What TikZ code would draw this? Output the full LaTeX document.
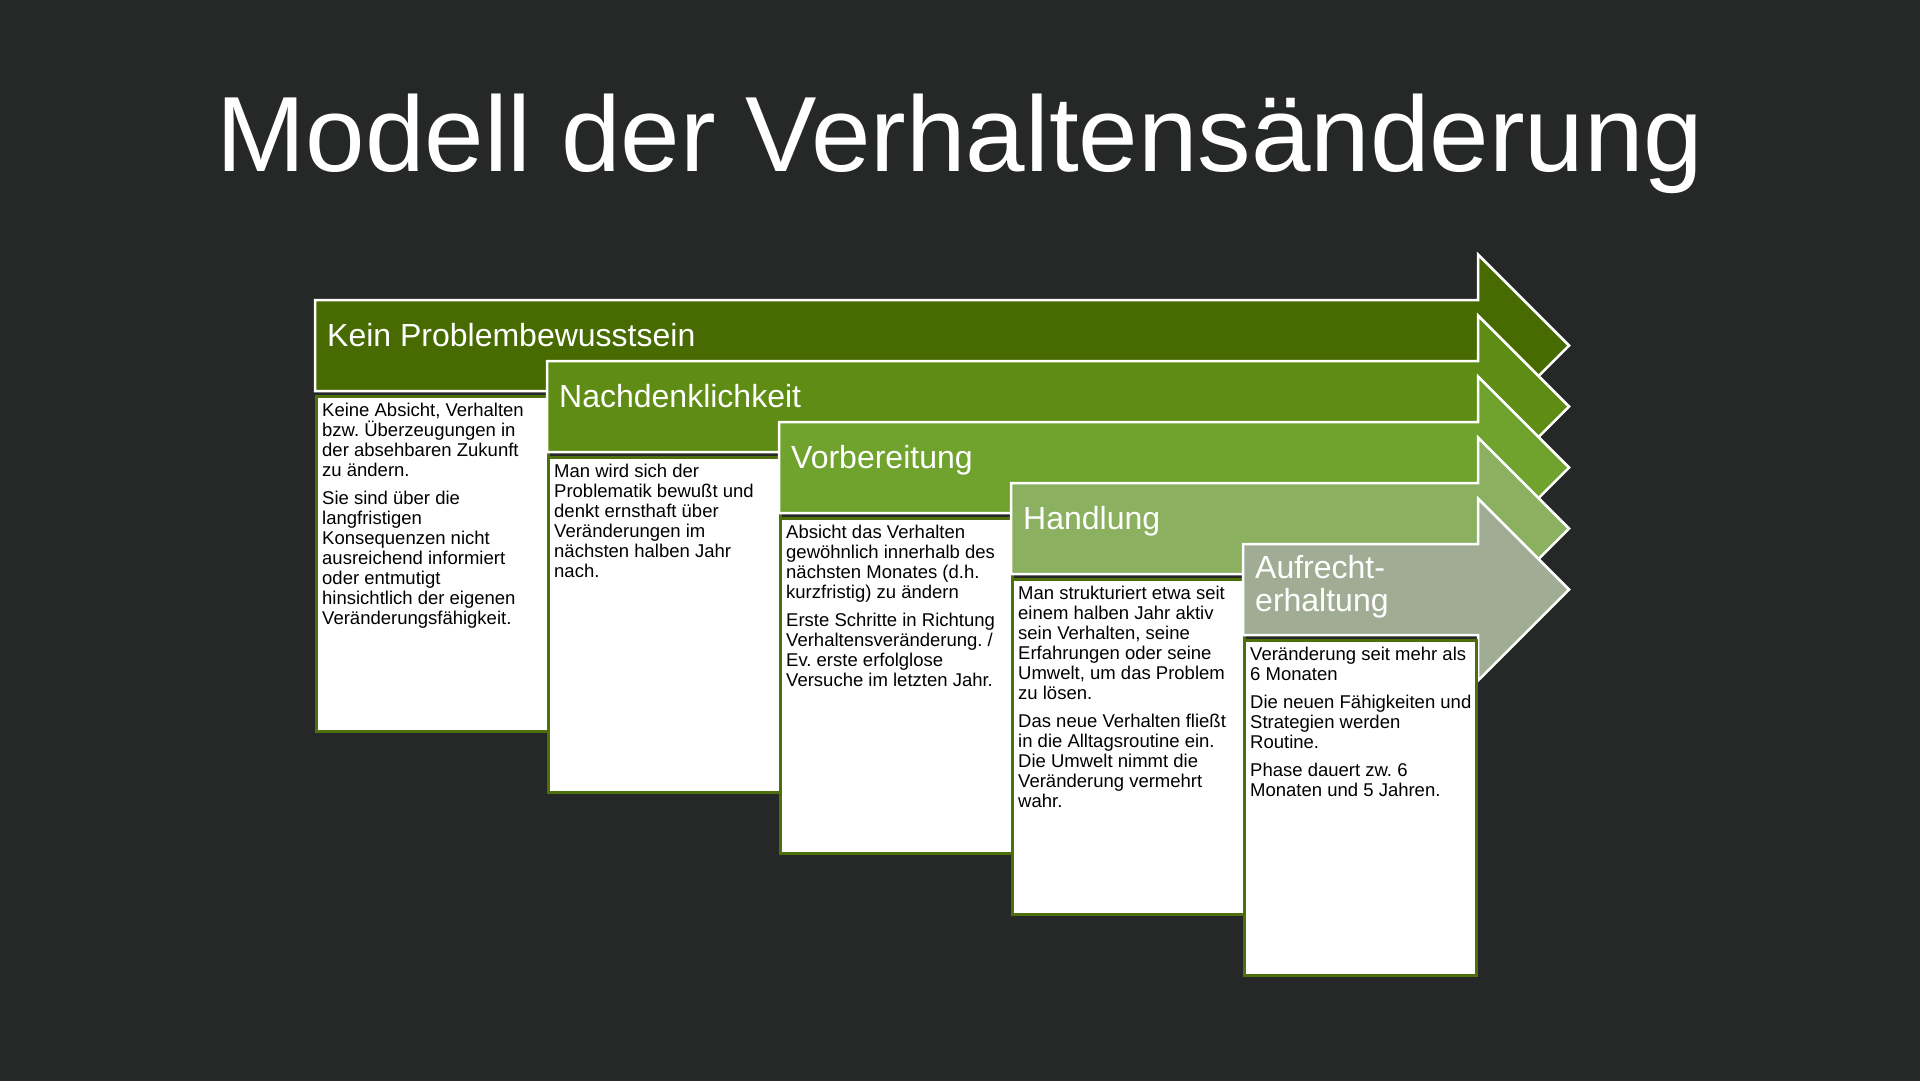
\documentclass[tikz,border=0pt]{standalone}
\usepackage{fontspec}
\setmainfont{Liberation Sans}
\usetikzlibrary{positioning}
\frenchspacing
\definecolor{pagebg}{RGB}{38,40,40}
\definecolor{stageA}{RGB}{71,107,0}
\definecolor{stageB}{RGB}{95,140,20}
\definecolor{stageC}{RGB}{112,162,46}
\definecolor{stageD}{RGB}{138,176,96}
\definecolor{stageE}{RGB}{160,173,148}
\definecolor{bodyrim}{RGB}{78,112,12}
% arrow band: left edge, top edge, fill colour
\newcommand{\stagearrow}[3]{%
  \draw [stagehead, fill=#3] (#1,#2) -- (1478,#2) -- (1478,#2-45.5) -- (1569,#2+45.5)
    -- (1478,#2+136.5) -- (1478,#2+91) -- (#1,#2+91) -- cycle;}

\begin{document}
\begin{tikzpicture}[x=1pt, y=-1pt,
  stagehead/.style={draw=white, line width=2.5pt, line join=miter},
  stagebody/.style={draw=bodyrim, fill=white, line width=3pt, anchor=north west,
    minimum width=232pt, minimum height=335pt, inner sep=0pt},
  headtext/.style={text=white, font=\fontsize{32}{33}\selectfont, anchor=base west, inner sep=0pt},
  bodytext/.style={font=\fontsize{18.5}{20}\selectfont, align=left, inner sep=0pt}]
\useasboundingbox (0,0) rectangle (1920,1080);
\fill [pagebg] (-5,-5) rectangle (1925,1085);
\node [font=\fontsize{107}{110}\selectfont, text=white, anchor=base, inner sep=0pt] (titel) at (960,171) {Modell der Verhaltensänderung};

\stagearrow{315}{300}{stageA}
\node [headtext] (kopf1) at (327,346) {Kein Problembewusstsein};
\node [stagebody] (body1) at (315,395) {};
\node [bodytext, below right=8pt and 7pt of body1.north west] (text1) {Keine Absicht, Verhalten\\bzw. Überzeugungen in\\der absehbaren Zukunft\\zu ändern.\\[8pt]Sie sind über die\\langfristigen\\Konsequenzen nicht\\ausreichend informiert\\oder entmutigt\\hinsichtlich der eigenen\\Veränderungsfähigkeit.};

\stagearrow{547}{361}{stageB}
\node [headtext] (kopf2) at (559,407) {Nachdenklichkeit};
\node [stagebody] (body2) at (547,456) {};
\node [bodytext, below right=8pt and 7pt of body2.north west] (text2) {Man wird sich der\\Problematik bewußt und\\denkt ernsthaft über\\Veränderungen im\\nächsten halben Jahr\\nach.};

\stagearrow{779}{422}{stageC}
\node [headtext] (kopf3) at (791,468) {Vorbereitung};
\node [stagebody] (body3) at (779,517) {};
\node [bodytext, below right=8pt and 7pt of body3.north west] (text3) {Absicht das Verhalten\\gewöhnlich innerhalb des\\nächsten Monates (d.h.\\kurzfristig) zu ändern\\[8pt]Erste Schritte in Richtung\\Verhaltensveränderung. /\\Ev. erste erfolglose\\Versuche im letzten Jahr.};

\stagearrow{1011}{483}{stageD}
\node [headtext] (kopf4) at (1023,529) {Handlung};
\node [stagebody] (body4) at (1011,578) {};
\node [bodytext, below right=8pt and 7pt of body4.north west] (text4) {Man strukturiert etwa seit\\einem halben Jahr aktiv\\sein Verhalten, seine\\Erfahrungen oder seine\\Umwelt, um das Problem\\zu lösen.\\[8pt]Das neue Verhalten fließt\\in die Alltagsroutine ein.\\Die Umwelt nimmt die\\Veränderung vermehrt\\wahr.};

\stagearrow{1243}{544}{stageE}
\node [headtext, anchor=north west, align=left] (kopf5) at (1255,555) {Aufrecht-\\erhaltung};
\node [stagebody] (body5) at (1243,639) {};
\node [bodytext, below right=8pt and 7pt of body5.north west] (text5) {Veränderung seit mehr als\\6 Monaten\\[8pt]Die neuen Fähigkeiten und\\Strategien werden\\Routine.\\[8pt]Phase dauert zw. 6\\Monaten und 5 Jahren.};
\end{tikzpicture}
\end{document}
